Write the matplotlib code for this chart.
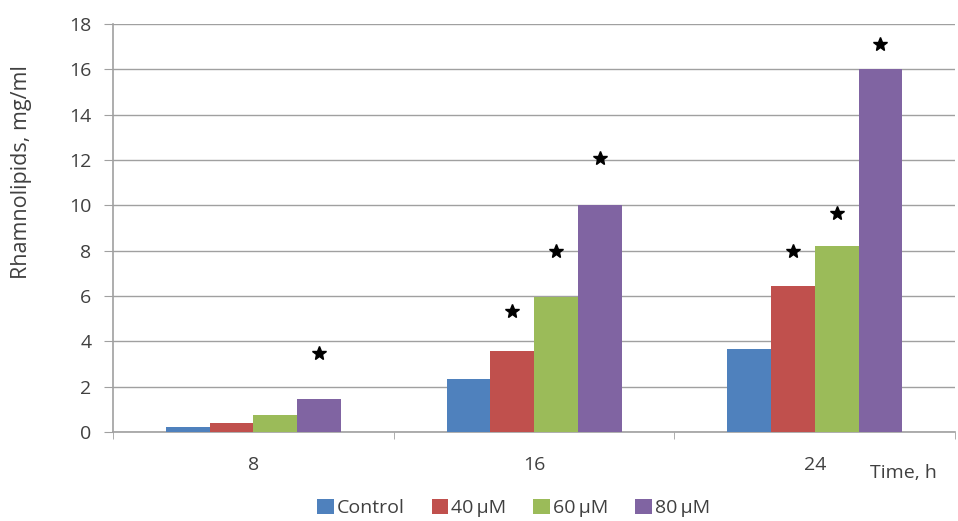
import matplotlib
matplotlib.use("Agg")
import matplotlib.pyplot as plt
import numpy as np

# data
times = ["8", "16", "24"]
series = ["Control", "40\u2009µM", "60\u2009µM", "80\u2009µM"]
control = [0.23, 2.35, 3.66]
um40 = [0.38, 3.56, 6.45]
um60 = [0.75, 5.95, 8.2]
um80 = [1.45, 10.0, 16.0]
# significance star heights per time point, None where absent
stars_40 = [None, 5.35, 8.0]
stars_60 = [None, 8.0, 9.65]
stars_80 = [3.5, 12.1, 17.1]

colors = ["#4F81BD", "#C0504D", "#9BBB59", "#8064A2"]
text_col = "#404040"
grid_col = "#a0a0a0"
fs = 14

plt.rcParams["font.family"] = ["Open Sans", "DejaVu Sans"]

fig = plt.figure(figsize=(9.58, 5.21), dpi=100)
ax = fig.add_axes([0.118, 0.171, 0.879, 0.783])

x = np.arange(len(times))
width = 0.156
values = [control, um40, um60, um80]
for i, (vals, name, col) in enumerate(zip(values, series, colors)):
    ax.bar(x + (i - 1.5) * width, vals, width, color=col, label=name, zorder=3)

for i, stars in ((1, stars_40), (2, stars_60), (3, stars_80)):
    for k, h in enumerate(stars):
        if h is not None:
            ax.plot(x[k] + (i - 1.5) * width, h, marker="*", color="black",
                    markersize=10, linestyle="none", zorder=4)

ax.set_xlim(-0.5, 2.5)
ax.set_ylim(0, 18)
ax.set_yticks(range(0, 19, 2))
ax.set_xticks(x)
ax.set_xticklabels(times)
ax.set_xticks([-0.5, 0.5, 1.5, 2.5], minor=True)
ax.tick_params(axis="x", which="major", length=0, pad=17, labelsize=fs, labelcolor=text_col)
ax.tick_params(axis="x", which="minor", length=5, color=grid_col, direction="out")
ax.tick_params(axis="y", length=6.5, color=grid_col, labelsize=fs, labelcolor=text_col, pad=9)
ax.grid(axis="y", color=grid_col, linewidth=1, zorder=0)
for side in ("top", "right"):
    ax.spines[side].set_visible(False)
for side in ("left", "bottom"):
    ax.spines[side].set_color(grid_col)
    ax.spines[side].set_linewidth(1.2)

fig.text(0.022, 0.670, "Rhamnolipids, mg/ml", rotation=90, fontsize=15.5,
         color=text_col, ha="center", va="center")
fig.text(0.908, 0.092, "Time, h", fontsize=fs, color=text_col, ha="left", va="center")

fig.legend(loc="center", bbox_to_anchor=(0.536, 0.025), ncol=4, frameon=False,
           fontsize=fs, handlelength=0.85, handleheight=0.85, handletextpad=0.15,
           columnspacing=1.4, labelcolor=text_col, borderpad=0)

fig.savefig("out.png", dpi=100)
